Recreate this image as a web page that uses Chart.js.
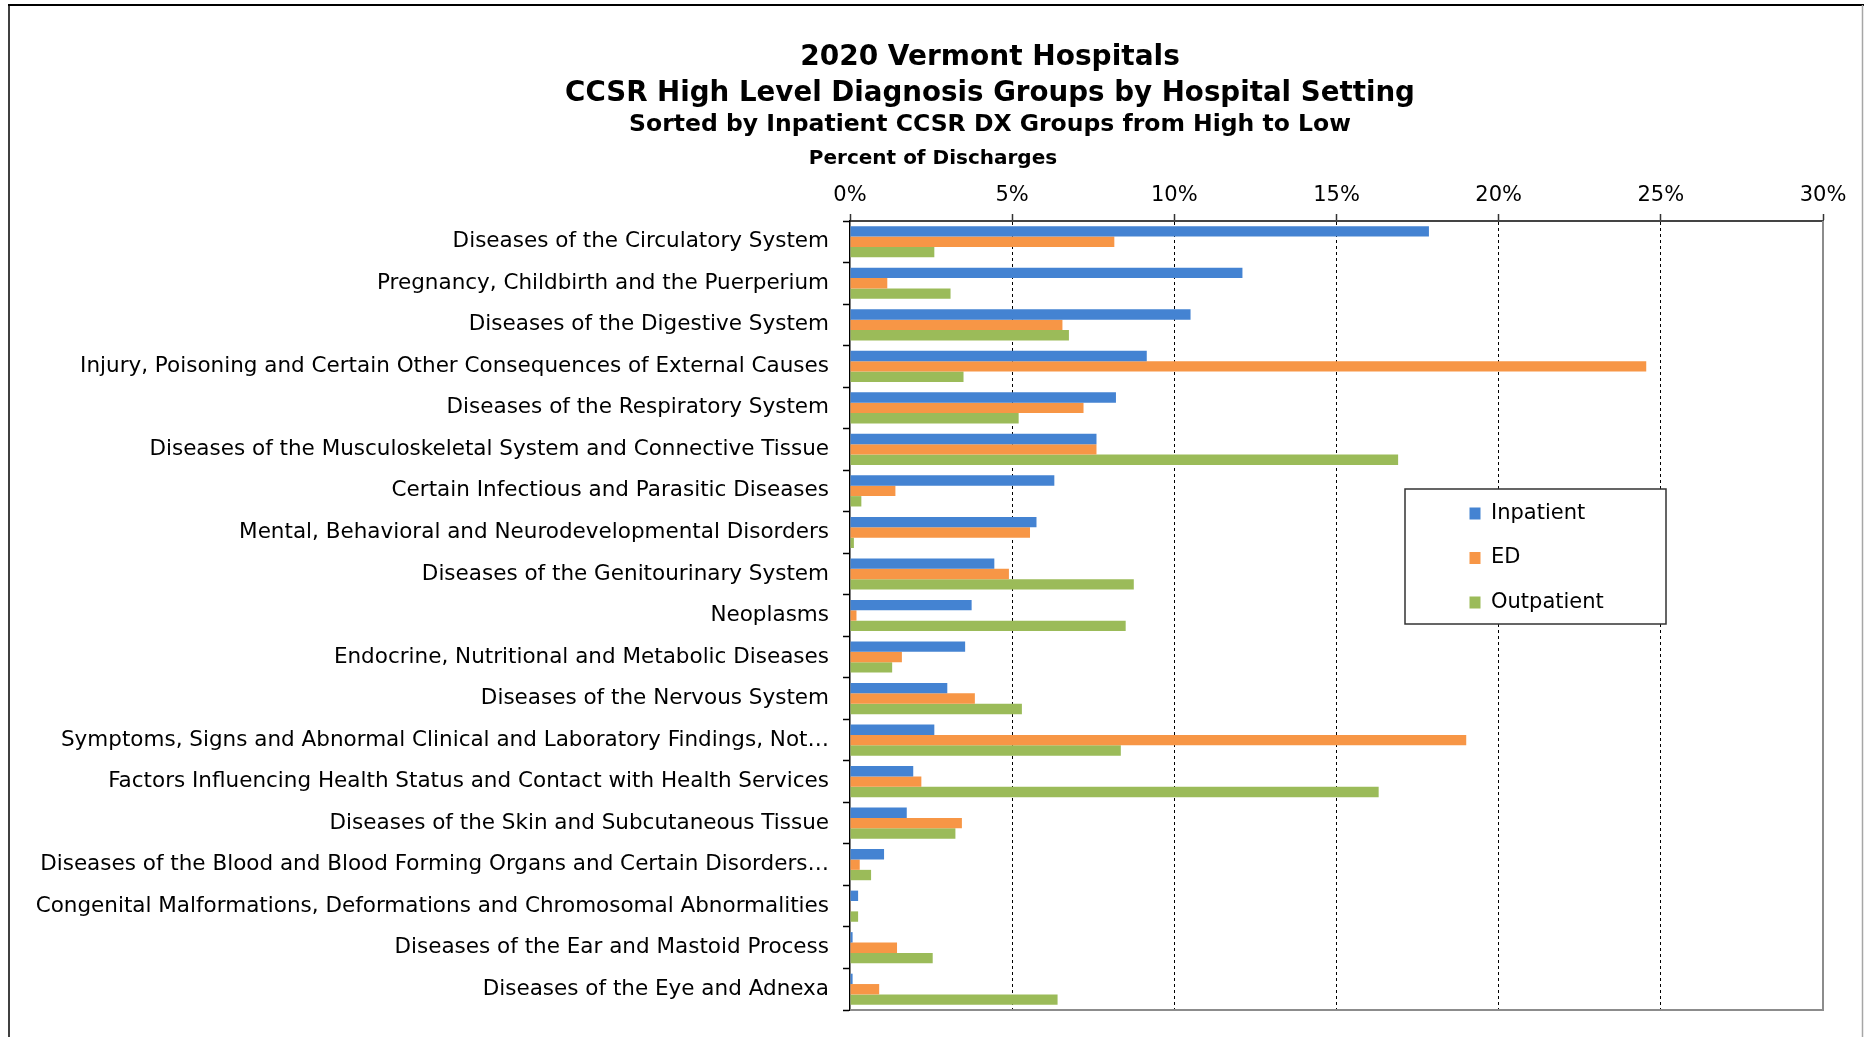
<!DOCTYPE html>
<html>
<head>
<meta charset="utf-8">
<script src="https://cdn.jsdelivr.net/npm/chart.js@4.4.1/dist/chart.umd.min.js"></script>
<style>
html,body{margin:0;padding:0;background:#fff;overflow:hidden}
#wrap{position:absolute;left:0;top:0;width:1869px;height:1037px}
</style>
</head>
<body>
<div id="wrap"><canvas id="c" width="1869" height="1037"></canvas></div>
<script>
const categories = [
  "Diseases of the Circulatory System",
  "Pregnancy, Childbirth and the Puerperium",
  "Diseases of the Digestive System",
  "Injury, Poisoning and Certain Other Consequences of External Causes",
  "Diseases of the Respiratory System",
  "Diseases of the Musculoskeletal System and Connective Tissue",
  "Certain Infectious and Parasitic Diseases",
  "Mental, Behavioral and Neurodevelopmental Disorders",
  "Diseases of the Genitourinary System",
  "Neoplasms",
  "Endocrine, Nutritional and Metabolic Diseases",
  "Diseases of the Nervous System",
  "Symptoms, Signs and Abnormal Clinical and Laboratory Findings, Not\u2026",
  "Factors Influencing Health Status and Contact with Health Services",
  "Diseases of the Skin and Subcutaneous Tissue",
  "Diseases of the Blood and Blood Forming Organs and Certain Disorders\u2026",
  "Congenital Malformations, Deformations and Chromosomal Abnormalities",
  "Diseases of the Ear and Mastoid Process",
  "Diseases of the Eye and Adnexa"
];
const seriesNames = ["Inpatient", "ED", "Outpatient"];
const inpatient  = [17.85, 12.1, 10.5, 9.15, 8.2, 7.6, 6.3, 5.75, 4.45, 3.75, 3.55, 3.0, 2.6, 1.95, 1.75, 1.05, 0.25, 0.08, 0.08];
const ed         = [8.15, 1.15, 6.55, 24.55, 7.2, 7.6, 1.4, 5.55, 4.9, 0.2, 1.6, 3.85, 19.0, 2.2, 3.45, 0.3, 0.02, 1.45, 0.9];
const outpatient = [2.6, 3.1, 6.75, 3.5, 5.2, 16.9, 0.35, 0.12, 8.75, 8.5, 1.3, 5.3, 8.35, 16.3, 3.25, 0.65, 0.25, 2.55, 6.4];
const xMin = 0, xMax = 30, xStep = 5;
const titleLines = [
  "2020 Vermont Hospitals",
  "CCSR High Level Diagnosis Groups by Hospital Setting",
  "Sorted by Inpatient CCSR DX Groups from High to Low"
];
const axisTitle = "Percent of Discharges";

const FONT = "'DejaVu Sans', sans-serif";

const headings = {
  id: 'headings',
  beforeDraw(chart) {
    const ctx = chart.ctx;
    ctx.save();
    // outer frame
    ctx.strokeStyle = '#000';
    ctx.lineWidth = 2;
    ctx.beginPath(); ctx.moveTo(8, 5); ctx.lineTo(1864, 5); ctx.stroke();
    ctx.lineWidth = 1.5;
    ctx.beginPath(); ctx.moveTo(9, 5); ctx.lineTo(9, 1037); ctx.stroke();
    ctx.strokeStyle = '#a6a6a6';
    ctx.beginPath(); ctx.moveTo(1862.5, 5); ctx.lineTo(1862.5, 1037); ctx.stroke();
    // titles
    ctx.fillStyle = '#000';
    ctx.textAlign = 'center';
    ctx.textBaseline = 'middle';
    const specs = [
      [titleLines[0], 28, 58],
      [titleLines[1], 27.7, 93.5],
      [titleLines[2], 23.5, 124.5],
      [axisTitle, 20, 158.5, 933]
    ];
    for (const s of specs) {
      ctx.font = 'bold ' + s[1] + 'px ' + FONT;
      ctx.fillText(s[0], s[3] || 990, s[2]);
    }
    ctx.restore();
  }
};

const plotFrame = {
  id: 'plotFrame',
  beforeDatasetsDraw(chart) {
    const {ctx, chartArea: a} = chart;
    ctx.save();
    ctx.strokeStyle = '#8c8c8c';
    ctx.lineWidth = 2;
    ctx.beginPath();
    ctx.moveTo(a.left, a.bottom);
    ctx.lineTo(a.right, a.bottom);
    ctx.lineTo(a.right, a.top);
    ctx.stroke();
    ctx.restore();
  }
};

const legendPlace = {
  id: 'legendPlace',
  afterLayout(chart) {
    const lg = chart.legend;
    if (!lg) return;
    const w = lg.width, h = lg.height;
    lg.left = 1446; lg.top = 479.5;
    lg.right = lg.left + w; lg.bottom = lg.top + h;
  },
  afterDraw(chart) {
    const ctx = chart.ctx;
    ctx.save();
    ctx.fillStyle = '#fff';
    ctx.fillRect(1405, 489, 261, 135);
    ctx.strokeStyle = '#333';
    ctx.lineWidth = 1.5;
    ctx.strokeRect(1405, 489, 261, 135);
    ctx.restore();
    chart.legend.draw();
  }
};

const colors = ['#4483D2', '#F79646', '#9BBB59'];
const values = [inpatient, ed, outpatient];

new Chart(document.getElementById('c'), {
  type: 'bar',
  data: {
    labels: categories,
    datasets: seriesNames.map((n, i) => ({
      label: n,
      data: values[i],
      backgroundColor: colors[i],
      borderWidth: 0,
      categoryPercentage: 0.75,
      barPercentage: 1.0
    }))
  },
  options: {
    indexAxis: 'y',
    responsive: false,
    animation: false,
    devicePixelRatio: 1,
    layout: { padding: { left: 0, right: 46, top: 170, bottom: 27 } },
    plugins: {
      title: { display: false },
      tooltip: { enabled: false },
      legend: {
        position: 'chartArea',
        align: 'start',
        labels: {
          boxWidth: 11,
          boxHeight: 12,
          padding: 23.5,
          color: '#000',
          font: { family: FONT, size: 21 }
        }
      }
    },
    scales: {
      x: {
        position: 'top',
        min: xMin,
        max: xMax,
        afterFit(scale) { scale.height = 51; },
        ticks: {
          stepSize: xStep,
          color: '#000',
          padding: 6,
          font: { family: FONT, size: 21 },
          callback: v => v + '%'
        },
        grid: {
          color: c => (c.tick && (c.tick.value === xMin || c.tick.value === xMax)) ? 'rgba(0,0,0,0)' : '#000',
          lineWidth: 1,
          drawTicks: true,
          tickLength: 7,
          tickColor: '#333',
          tickWidth: 1.5
        },
        border: { display: true, color: '#444', width: 2, dash: [3, 3] }
      },
      y: {
        afterFit(scale) { scale.width = 850; },
        ticks: {
          autoSkip: false,
          color: '#000',
          padding: 14,
          font: { family: FONT, size: 21.5 }
        },
        grid: {
          drawOnChartArea: false,
          drawTicks: true,
          tickLength: 7,
          tickColor: '#000',
          tickWidth: 1.5
        },
        border: { display: true, color: '#000', width: 1.5 }
      }
    }
  },
  plugins: [headings, plotFrame, legendPlace]
});
</script>
</body>
</html>
